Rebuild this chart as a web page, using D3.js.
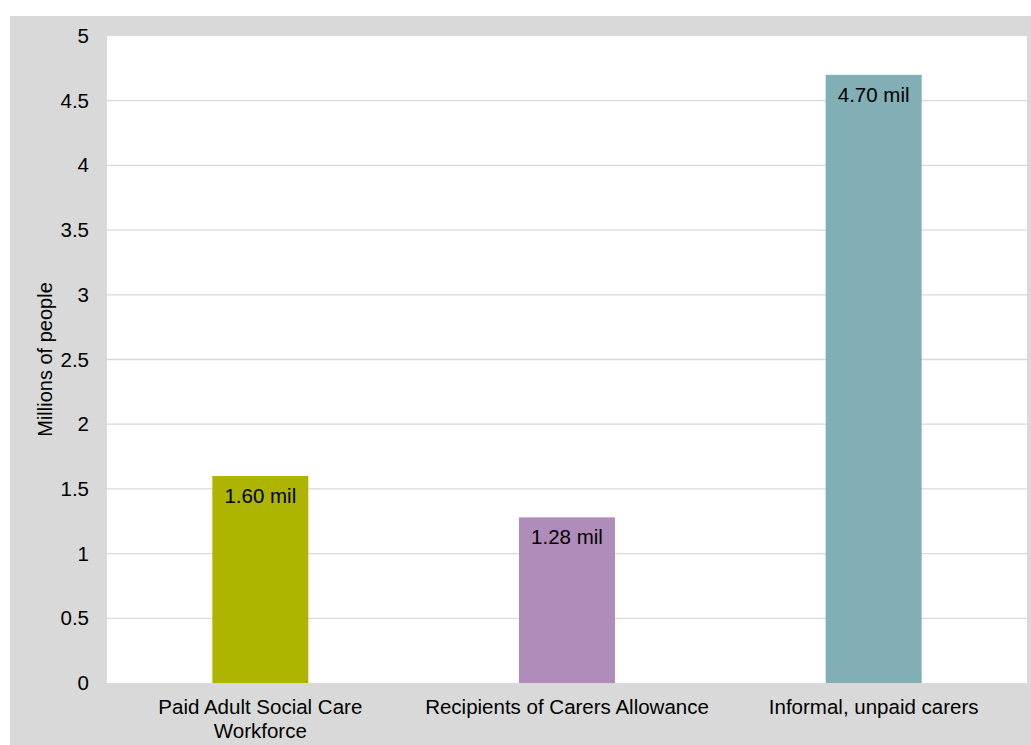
<!DOCTYPE html>
<html>
<head>
<meta charset="utf-8">
<script src="https://cdn.jsdelivr.net/npm/d3@7"></script>
<style>
  body { margin: 0; background: #fff; }
  text { font-family: "Liberation Sans", Arial, sans-serif; fill: #000; }
</style>
</head>
<body>
<div id="chart"></div>
<script>
// data
var categories = [["Paid Adult Social Care", "Workforce"], ["Recipients of Carers Allowance"], ["Informal, unpaid carers"]];
var values = [1.60, 1.28, 4.70];
var valueLabels = ["1.60 mil", "1.28 mil", "4.70 mil"];
var colors = ["#adb500", "#b08cba", "#82aeb5"];
var yTicks = [0, 0.5, 1, 1.5, 2, 2.5, 3, 3.5, 4, 4.5, 5];

var W = 1031, H = 745;
var margin = { top: 36, right: 4, bottom: 62, left: 107 },
    width = W - margin.left - margin.right,
    height = H - margin.top - margin.bottom;

var root = d3.select("#chart").append("svg")
    .attr("width", W)
    .attr("height", H);

// grey outer panel
root.append("rect")
    .attr("x", 10).attr("y", 16)
    .attr("width", W - 10).attr("height", H - 16)
    .attr("fill", "#d9d9d9");

var svg = root.append("g")
    .attr("transform", "translate(" + margin.left + "," + margin.top + ")");

// white plot area
svg.append("rect")
    .attr("width", width).attr("height", height)
    .attr("fill", "#fff");

var x = d3.scaleBand()
    .domain(d3.range(categories.length))
    .range([0, width])
    .padding(0);

var y = d3.scaleLinear()
    .domain([0, 5])
    .range([height, 0]);

// gridlines
svg.append("g")
    .selectAll("line")
    .data(yTicks.filter(function (d) { return d > 0 && d < 5; }))
    .enter().append("line")
    .attr("x1", 0).attr("x2", width)
    .attr("y1", function (d) { return y(d); })
    .attr("y2", function (d) { return y(d); })
    .attr("stroke", "#d9d9d9")
    .attr("stroke-width", 1.3);

// Y axis
var yAxis = svg.append("g")
    .call(d3.axisLeft(y).tickValues(yTicks).tickSize(0).tickPadding(18).tickFormat(function (d) { return d; }));
yAxis.select(".domain").remove();
yAxis.selectAll("text")
    .style("font-size", "20.5px")
    .style("font-family", "'Liberation Sans', Arial, sans-serif")
    .attr("fill", "#000");

// Y title
svg.append("text")
    .attr("transform", "translate(" + (45 - margin.left) + "," + (height / 2) + ") rotate(-90)")
    .attr("text-anchor", "middle")
    .attr("dy", "0.35em")
    .style("font-size", "20px")
    .text("Millions of people");

// bars
var barW = x.bandwidth() * 0.313;
svg.selectAll(".bar")
    .data(values)
    .enter().append("rect")
    .attr("class", "bar")
    .attr("x", function (d, i) { return x(i) + x.bandwidth() / 2 - barW / 2; })
    .attr("width", barW)
    .attr("y", function (d) { return y(d); })
    .attr("height", function (d) { return height - y(d); })
    .attr("fill", function (d, i) { return colors[i]; });

// value labels
svg.selectAll(".vlabel")
    .data(values)
    .enter().append("text")
    .attr("class", "vlabel")
    .attr("x", function (d, i) { return x(i) + x.bandwidth() / 2; })
    .attr("y", function (d) { return y(d) + 27; })
    .attr("text-anchor", "middle")
    .style("font-size", "20.5px")
    .text(function (d, i) { return valueLabels[i]; });

// category labels
var cl = svg.selectAll(".clabel")
    .data(categories)
    .enter().append("text")
    .attr("class", "clabel")
    .attr("text-anchor", "middle")
    .attr("y", height + 31)
    .style("font-size", "20.5px");
cl.selectAll("tspan")
    .data(function (d, i) { return d.map(function (t) { return { t: t, i: i }; }); })
    .enter().append("tspan")
    .attr("x", function (d) { return x(d.i) + x.bandwidth() / 2; })
    .attr("dy", function (d, j) { return j === 0 ? 0 : 24; })
    .text(function (d) { return d.t; });
</script>
</body>
</html>
